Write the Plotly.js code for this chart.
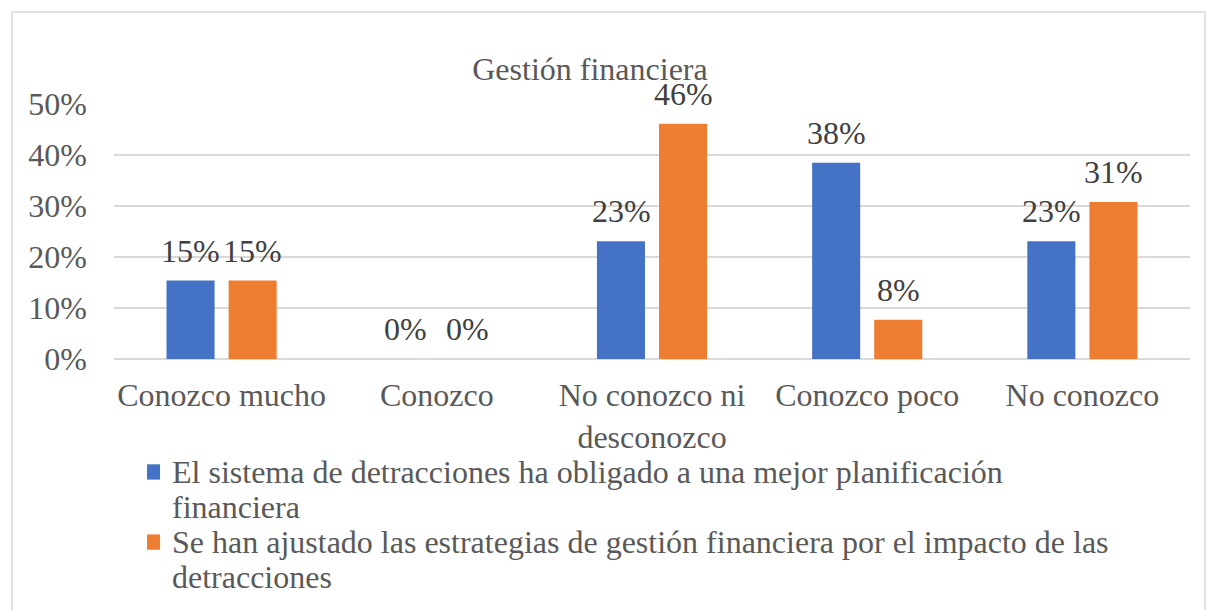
<!DOCTYPE html>
<html><head><meta charset="utf-8">
<script src="https://cdn.plot.ly/plotly-3.0.1.min.js"></script>
<style>body{margin:0;background:#fff}#c{width:1208px;height:610px}</style>
</head><body><div id="c"></div>
<script>
const categories = ["Conozco mucho", "Conozco", "No conozco ni<br>desconozco", "Conozco poco", "No conozco"];
const seriesNames = [
  "El sistema de detracciones ha obligado a una mejor planificación<br>financiera",
  "Se han ajustado las estrategias de gestión financiera por el impacto de las<br>detracciones"
];
const planificacion = [0.1538, 0, 0.2308, 0.3846, 0.2308];
const estrategias = [0.1538, 0, 0.4615, 0.0769, 0.3077];
const colors = ["#4472C4", "#ED7D31"];
const fontFam = "Liberation Serif";
const fs = 32;
const series = [planificacion, estrategias];

function pct(v){ return Math.round(v*100) + "%"; }

const traces = series.map((vals, i) => ({
  type: "bar",
  name: seriesNames[i],
  x: categories,
  y: vals,
  marker: {color: colors[i]},
  showlegend: false,
  hoverinfo: "none"
}));

// data labels from the same arrays
const annotations = [];
series.forEach((vals, i) => {
  vals.forEach((v, j) => {
    annotations.push({x: categories[j], y: v, xref: "x", yref: "y", text: pct(v), showarrow: false,
      xshift: i === 0 ? -31 : 31, yanchor: "bottom", yshift: 10,
      font: {family: fontFam, size: fs, color: "#404040"}});
  });
});

// legend (drawn as text lines + swatches so line spacing matches the original)
const legendTop = [-0.443, -0.718];
const lineStep = 0.137;
const shapes = [{type: "rect", xref: "paper", yref: "paper", x0: -0.0948, x1: 1.0139, y0: -1.2, y1: 1.361,
            line: {color: "#D9D9D9", width: 1.5}, fillcolor: "rgba(0,0,0,0)", layer: "below"}];
seriesNames.forEach((name, i) => {
  shapes.push({type: "rect", xref: "paper", yref: "paper", x0: 0.0307, x1: 0.0428,
    y0: legendTop[i] - 0.030, y1: legendTop[i] + 0.030, line: {width: 0}, fillcolor: colors[i]});
  name.split("<br>").forEach((line, k) => {
    annotations.push({xref: "paper", yref: "paper", x: 0.052, y: legendTop[i] - k*lineStep,
      xanchor: "left", yanchor: "middle", text: line, showarrow: false,
      font: {family: fontFam, size: fs, color: "#595959"}});
  });
});

const layout = {
  width: 1208, height: 610,
  margin: {l: 114, r: 18, t: 104, b: 251},
  paper_bgcolor: "#fff", plot_bgcolor: "#fff",
  font: {family: fontFam, size: fs, color: "#595959"},
  title: {text: "Gestión financiera", x: 0.4884, xanchor: "center", xref: "container",
          y: 0.888, yanchor: "middle", yref: "container",
          font: {family: fontFam, size: fs, color: "#595959"}},
  bargap: 0.423, bargroupgap: 0.226,
  barmode: "group",
  showlegend: false,
  xaxis: {showgrid: false, showline: false, ticks: "", ticklabelstandoff: 14,
          tickfont: {family: fontFam, size: fs, color: "#595959"}},
  yaxis: {range: [0, 0.5], dtick: 0.1, tickformat: ".0%", showgrid: true, gridcolor: "#D9D9D9", gridwidth: 1.5,
          zeroline: true, zerolinecolor: "#D9D9D9", zerolinewidth: 1.5, showline: false, ticks: "",
          ticklabelstandoff: 26,
          tickfont: {family: fontFam, size: fs, color: "#595959"}},
  annotations: annotations,
  shapes: shapes
};

Plotly.newPlot("c", traces, layout, {displayModeBar: false, staticPlot: true});
</script></body></html>
